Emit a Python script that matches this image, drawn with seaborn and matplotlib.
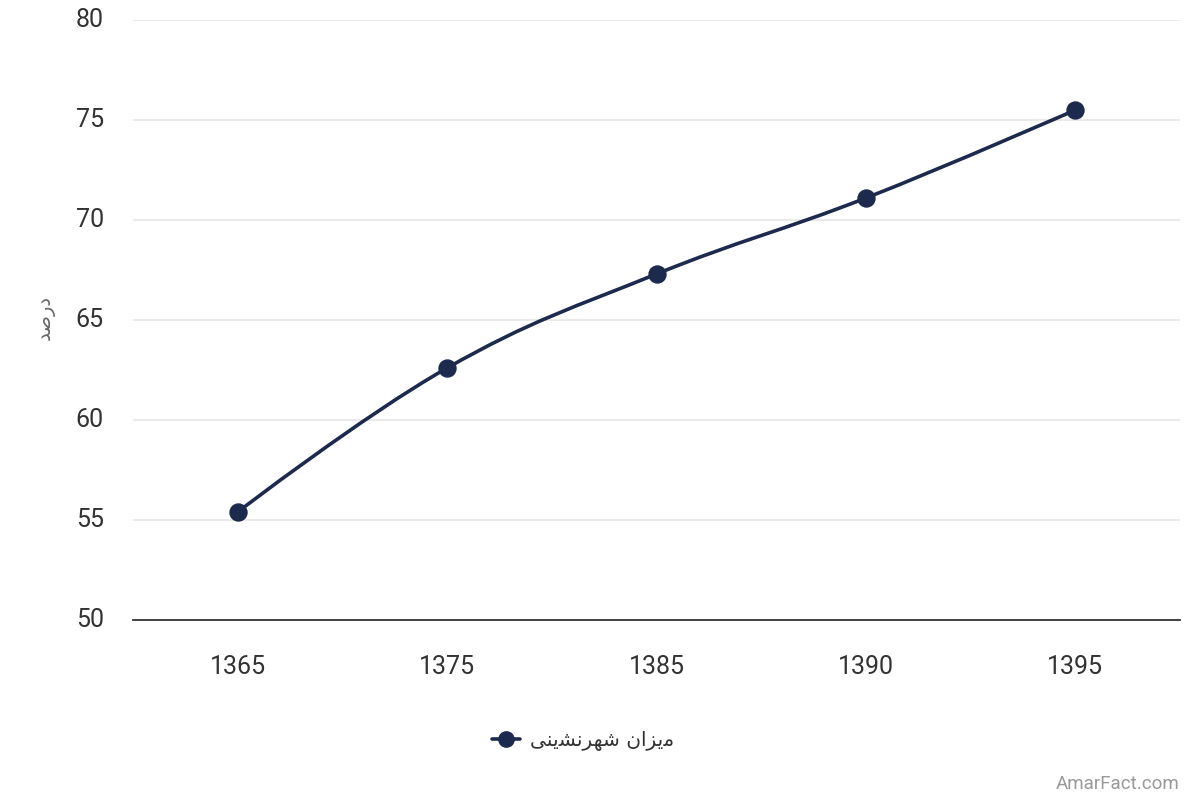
import numpy as np
import pandas as pd
import matplotlib.pyplot as plt
import seaborn as sns
from matplotlib.path import Path
from matplotlib.patches import PathPatch
from matplotlib.lines import Line2D

# data
years = ["1365", "1375", "1385", "1390", "1395"]
urban_pct = [55.4, 62.6, 67.3, 71.1, 75.5]
y_ticks = [50, 55, 60, 65, 70, 75, 80]

# Persian text, pre-shaped (presentation forms, visual order)
series_name = "\uFBFD\uFEE8\uFBFE\uFEB8\uFEE7\uFEAE\uFEEC\uFEB7 \uFEE5\uFE8D\uFEB0\uFBFE\uFEE3"  # میزان شهرنشینی
y_title = "\uFEAA\uFEBB\uFEAD\uFEA9"  # درصد

navy = "#1c2a4e"

sns.set_theme(style="white")
plt.rcParams['font.family'] = ['Roboto', 'DejaVu Sans']

df = pd.DataFrame({"year": years, "pct": urban_pct})
df["idx"] = np.arange(len(df))

fig, ax = plt.subplots(figsize=(12, 8), dpi=100)
fig.subplots_adjust(left=133 / 1200, right=1180 / 1200, top=1 - 20 / 800, bottom=1 - 620 / 800)


def spline_path(xs, ys, smoothing=1.5):
    # cubic bezier through the points, highcharts-style spline
    denom = smoothing + 1
    n = len(xs)
    lc = [(xs[i], ys[i]) for i in range(n)]
    rc = [(xs[i], ys[i]) for i in range(n)]
    for i in range(1, n - 1):
        lx = (smoothing * xs[i] + xs[i - 1]) / denom
        ly = (smoothing * ys[i] + ys[i - 1]) / denom
        rx = (smoothing * xs[i] + xs[i + 1]) / denom
        ry = (smoothing * ys[i] + ys[i + 1]) / denom
        corr = (ry - ly) * (rx - xs[i]) / (rx - lx) + ys[i] - ry
        lc[i] = (lx, ly + corr)
        rc[i] = (rx, ry + corr)
    verts = [(xs[0], ys[0])]
    codes = [Path.MOVETO]
    for i in range(1, n):
        verts += [rc[i - 1], lc[i], (xs[i], ys[i])]
        codes += [Path.CURVE4] * 3
    return Path(verts, codes)


ax.add_patch(PathPatch(spline_path(df["idx"].tolist(), df["pct"].tolist()),
                       facecolor="none", edgecolor=navy, lw=2.6, zorder=3))
sns.scatterplot(data=df, x="idx", y="pct", color=navy, s=150, edgecolor=navy,
                zorder=4, ax=ax, legend=False)

ax.set_xlim(-0.5, len(years) - 0.5)
ax.set_ylim(50, 80)
ax.set_xticks(df["idx"])
ax.set_xticklabels(years)
ax.set_yticks(y_ticks)
ax.yaxis.grid(True, color="#e6e6e6", lw=1.2)
ax.xaxis.grid(False)
for side in ["top", "right", "left"]:
    ax.spines[side].set_visible(False)
ax.spines["bottom"].set_color("#333333")
ax.spines["bottom"].set_linewidth(1.3)
ax.tick_params(axis="both", length=0, labelsize=18, labelcolor="#333333")
ax.tick_params(axis="x", pad=25)
ax.tick_params(axis="y", pad=21)
for t in ax.get_yticklabels():
    t.set_verticalalignment("center")
ax.set_xlabel("")
ax.set_ylabel("")

fig.text(45 / 1200, 1 - 318 / 800, y_title, rotation=90, ha="center", va="center",
         fontsize=14, color="#666666", family=['DejaVu Sans'])

handle = Line2D([], [], color=navy, lw=2.6, marker="o", markersize=11)
fig.legend([handle], [series_name], loc="center", bbox_to_anchor=(583 / 1200, 1 - 741 / 800),
           frameon=False, prop={"family": ['DejaVu Sans'], "size": 14.5}, handlelength=1.4,
           handletextpad=0.5, labelcolor="#333333")

fig.text(1179 / 1200, 1 - 784 / 800, "AmarFact.com", ha="right", va="center",
         fontsize=13.5, color="#999999")

fig.savefig("out.png", dpi=100, facecolor="white")
